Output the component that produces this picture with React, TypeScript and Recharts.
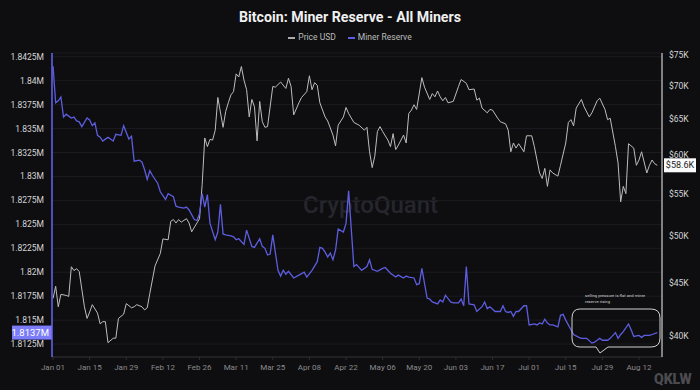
import React from 'react';
import { LineChart, Line, XAxis, YAxis, CartesianGrid, ReferenceLine } from 'recharts';

// days since 2024-01-01
const tickDays = [0, 14, 28, 42, 56, 70, 84, 98, 112, 126, 140, 154, 168, 182, 196, 210, 224];
const tickLabels = ['Jan 01', 'Jan 15', 'Jan 29', 'Feb 12', 'Feb 26', 'Mar 11', 'Mar 25', 'Apr 08', 'Apr 22', 'May 06', 'May 20', 'Jun 03', 'Jun 17', 'Jul 01', 'Jul 15', 'Jul 29', 'Aug 12'];

const reserveTicks = [1.8125, 1.815, 1.8175, 1.82, 1.8225, 1.825, 1.8275, 1.83, 1.8325, 1.835, 1.8375, 1.84, 1.8425];
const priceTicks = [40000, 45000, 50000, 55000, 60000, 65000, 70000, 75000];

// [day, price in $K]
const pricePoints: [number, number][] = [
  [0, 43.5], [1, 44.7], [2, 42.7], [3, 43.9], [5, 43.8], [6, 43.7], [7, 46.7], [8, 46.3], [9, 46.5], [10, 46.2],
  [12, 42.7], [13, 41.6], [14, 42.2], [15, 42.9], [17, 42.1], [18, 41.1], [19, 41.3], [20, 41.3], [21, 39.4], [23, 39.8],
  [24, 39.8], [25, 41.6], [27, 42.0], [28, 43.0], [30, 42.6], [31, 42.7], [32, 42.9], [34, 42.7], [35, 42.4], [36, 42.6],
  [37, 44.0], [39, 46.8], [41, 48.1], [42, 49.7], [44, 49.6], [45, 51.7], [46, 51.9], [47, 51.5], [48, 51.9], [49, 51.6],
  [51, 52.0], [52, 51.5], [53, 50.5], [55, 51.5], [56, 52.0], [57, 56.1], [58, 62.3], [59, 61.1], [60, 62.1], [61, 62.0],
  [62, 63.4], [63, 68.2], [65, 63.8], [66, 66.1], [67, 67.4], [68, 68.6], [69, 69.1], [70, 71.9], [71, 71.4], [72, 73.1],
  [73, 70.9], [74, 69.4], [75, 65.3], [76, 67.9], [77, 66.8], [78, 61.9], [79, 67.6], [80, 64.6], [81, 63.8], [82, 63.9],
  [84, 69.9], [85, 69.8], [87, 70.6], [89, 69.6], [90, 71.2], [91, 69.9], [92, 65.6], [94, 67.4], [95, 68.2], [97, 69.1],
  [98, 71.6], [99, 69.4], [100, 70.5], [101, 70.1], [102, 67.4], [104, 65.3], [105, 64.7], [106, 63.7], [107, 62.7], [108, 61.2],
  [109, 64.1], [111, 65.3], [112, 66.7], [113, 65.8], [115, 64.5], [117, 64.1], [119, 63.4], [120, 63.8], [121, 60.4], [122, 58.3],
  [123, 59.8], [124, 63.2], [125, 63.9], [126, 63.2], [128, 62.0], [129, 61.1], [130, 62.9], [131, 60.7], [132, 61.3], [134, 62.7],
  [135, 61.6], [136, 65.8], [137, 66.3], [138, 67.1], [139, 66.4], [141, 71.3], [142, 69.8], [144, 67.9], [145, 68.8], [146, 68.3],
  [147, 69.2], [148, 68.3], [149, 67.7], [150, 68.2], [151, 67.4], [153, 67.6], [155, 69.9], [156, 71.0], [158, 70.4], [159, 69.4],
  [161, 69.5], [162, 67.8], [163, 68.1], [164, 66.6], [166, 65.9], [167, 66.4], [168, 66.3], [170, 65.1], [171, 64.6], [173, 64.3],
  [174, 63.4], [175, 60.4], [176, 61.6], [177, 60.9], [178, 61.5], [180, 60.4], [181, 62.6], [183, 62.6], [184, 61.1], [186, 57.6],
  [187, 56.9], [188, 58.2], [189, 55.9], [190, 58.0], [191, 57.6], [193, 57.2], [194, 58.6], [196, 61.6], [197, 64.5], [198, 64.9],
  [199, 64.0], [200, 66.6], [202, 67.9], [203, 66.8], [205, 65.3], [206, 65.9], [208, 67.7], [209, 68.1], [211, 66.4], [212, 64.9],
  [213, 65.1], [215, 61.1], [216, 58.9], [217, 54.0], [218, 55.9], [219, 55.0], [220, 61.5], [222, 60.9], [223, 58.6], [224, 59.3],
  [225, 60.4], [227, 57.6], [228, 58.6], [229, 59.3], [230, 58.8], [231, 58.6],
];

// [day, miner reserve in M BTC]
const reservePoints: [number, number][] = [
  [0, 1.8415], [1, 1.8377], [2, 1.8379], [3, 1.8383], [4, 1.8362], [5, 1.8365], [6, 1.8363], [7, 1.8361], [8, 1.8362], [9, 1.8358],
  [10, 1.8357], [11, 1.8352], [13, 1.8361], [14, 1.8359], [15, 1.8353], [16, 1.8356], [17, 1.8343], [18, 1.8341], [19, 1.8337], [20, 1.8339],
  [21, 1.8341], [23, 1.8337], [24, 1.8344], [26, 1.8343], [27, 1.8353], [28, 1.8346], [29, 1.8339], [30, 1.8342], [31, 1.8316], [33, 1.8317],
  [34, 1.8315], [35, 1.8307], [36, 1.8297], [37, 1.8306], [38, 1.8301], [40, 1.8293], [41, 1.8284], [43, 1.8276], [44, 1.8282], [46, 1.8279],
  [47, 1.8269], [48, 1.8268], [50, 1.8267], [51, 1.8268], [52, 1.8265], [54, 1.8255], [55, 1.8254], [56, 1.8261], [57, 1.8282], [58, 1.8268],
  [59, 1.8281], [60, 1.8251], [62, 1.8234], [63, 1.8242], [64, 1.8271], [65, 1.8240], [66, 1.8239], [68, 1.8238], [69, 1.8237], [70, 1.8234],
  [71, 1.8235], [73, 1.8229], [74, 1.8244], [76, 1.8227], [77, 1.8226], [79, 1.8235], [80, 1.8227], [81, 1.8225], [82, 1.8218], [83, 1.8219],
  [84, 1.8239], [86, 1.8202], [87, 1.8196], [88, 1.8202], [89, 1.8198], [90, 1.8201], [92, 1.8194], [94, 1.8197], [96, 1.8200], [97, 1.8195],
  [99, 1.8202], [101, 1.8211], [102, 1.8226], [103, 1.8225], [104, 1.8221], [105, 1.8216], [106, 1.8220], [107, 1.8213], [108, 1.8223], [109, 1.8245],
  [111, 1.8242], [112, 1.8251], [113, 1.8285], [115, 1.8206], [116, 1.8208], [118, 1.8202], [120, 1.8206], [121, 1.8213], [122, 1.8203], [124, 1.8201],
  [126, 1.8204], [127, 1.8205], [129, 1.8199], [131, 1.8195], [132, 1.8197], [134, 1.8194], [135, 1.8196], [136, 1.8195], [138, 1.8194], [139, 1.8187],
  [140, 1.8188], [141, 1.8204], [143, 1.8173], [144, 1.8172], [145, 1.8169], [147, 1.8167], [148, 1.8171], [149, 1.8169], [150, 1.8176], [152, 1.8169],
  [153, 1.8168], [155, 1.8168], [156, 1.8172], [157, 1.8165], [158, 1.8206], [159, 1.8167], [161, 1.8166], [162, 1.8159], [164, 1.8164], [165, 1.8169],
  [166, 1.8162], [167, 1.8164], [169, 1.8159], [171, 1.8159], [172, 1.8165], [173, 1.8159], [174, 1.8158], [175, 1.8159], [176, 1.8154], [177, 1.8159],
  [178, 1.8159], [180, 1.8165], [181, 1.8165], [182, 1.8145], [184, 1.8146], [185, 1.8145], [186, 1.8147], [187, 1.8146], [188, 1.8151], [189, 1.8147],
  [190, 1.8145], [191, 1.8145], [193, 1.8143], [194, 1.8155], [195, 1.8156], [196, 1.8150], [198, 1.8140], [199, 1.8135], [201, 1.8132], [202, 1.8131],
  [204, 1.8131], [206, 1.8126], [207, 1.8127], [209, 1.8131], [210, 1.8129], [212, 1.8129], [213, 1.8131], [215, 1.8137], [216, 1.8131], [217, 1.8135],
  [218, 1.8138], [220, 1.8146], [221, 1.8140], [222, 1.8133], [224, 1.8134], [225, 1.8132], [226, 1.8134], [228, 1.8134], [229, 1.8135], [231, 1.8137],
];

const W = 700;
const H = 390;
const BG = '#0e0e11';
const FONT = 'Roboto, "Noto Sans", sans-serif';
const BLUE = '#5d5de0';
const GRAY = '#bdbdbd';

const priceData = pricePoints.map(([day, k]) => ({ day, price: k * 1000 }));
const reserveData = reservePoints.map(([day, m]) => ({ day, reserve: m }));

const lastReserve = reservePoints[reservePoints.length - 1][1];
const lastPrice = pricePoints[pricePoints.length - 1][1] * 1000;

const fmtReserve = (v: number) => `${+v.toFixed(4)}M`;
const fmtPrice = (v: number) => `$${+(v / 1000).toFixed(1)}K`;

const LeftTag = (props: any) => {
  const { viewBox } = props;
  const y = viewBox.y;
  const x = viewBox.x;
  return (
    <g>
      <rect x={x - 40} y={y - 7} width={40} height={14} fill="#7c7cf8" />
      <text x={x - 3} y={y} dy="0.35em" textAnchor="end" fill="#fff" fontSize={9.5} fontFamily={FONT}>
        {fmtReserve(lastReserve)}
      </text>
    </g>
  );
};

const RightTag = (props: any) => {
  const { viewBox } = props;
  const y = viewBox.y;
  const x = viewBox.x + viewBox.width;
  return (
    <g>
      <rect x={x + 2} y={y - 7} width={32} height={14} fill="#fafafa" />
      <text x={x + 18} y={y} dy="0.35em" textAnchor="middle" fill="#222" fontSize={9} fontFamily={FONT}>
        {fmtPrice(lastPrice)}
      </text>
    </g>
  );
};

export default function App() {
  return (
    <div style={{ position: 'absolute', left: 0, top: 0, width: W, height: H, background: BG, fontFamily: FONT, overflow: 'hidden' }}>
      <div style={{ position: 'absolute', top: 9, left: 0, width: W, textAlign: 'center', color: '#f0f0f0', fontWeight: 700, fontSize: 14.2 }}>
        Bitcoin: Miner Reserve - All Miners
      </div>
      <div style={{ position: 'absolute', top: 32, left: 0, width: W, textAlign: 'center', color: '#bbb', fontSize: 8.5 }}>
        <span style={{ display: 'inline-block', width: 7, height: 1.5, background: '#aaa', verticalAlign: 'middle', marginRight: 3 }} />
        Price USD
        <span style={{ display: 'inline-block', width: 7, height: 1.5, background: BLUE, verticalAlign: 'middle', marginLeft: 12, marginRight: 3 }} />
        Miner Reserve
      </div>
      <div style={{ position: 'absolute', left: 303, top: 191, color: '#26262c', fontSize: 24, fontWeight: 500 }}>CryptoQuant</div>
      <div style={{ position: 'absolute', left: 0, top: 0 }}>
        <LineChart width={W} height={H} margin={{ top: 53, right: 0, bottom: 0, left: 0 }}>
          <CartesianGrid yAxisId="left" vertical={false} stroke="#1b1b20" />
          <XAxis
            dataKey="day"
            type="number"
            domain={[-0.4, 232.8]}
            allowDataOverflow
            ticks={tickDays}
            tickFormatter={(d: number) => tickLabels[tickDays.indexOf(d)]}
            height={33}
            stroke="#2c2c32"
            tickSize={3}
            tickMargin={4}
            tick={{ fill: '#8a8a8a', fontSize: 8 }}
          />
          <YAxis
            yAxisId="left"
            type="number"
            domain={[1.81115, 1.84289]}
            allowDataOverflow
            ticks={reserveTicks}
            tickFormatter={fmtReserve}
            width={52}
            axisLine={{ stroke: '#6666f2', strokeWidth: 1.5 }}
            tickLine={false}
            tickSize={0}
            tickMargin={8}
            tick={{ fill: '#d4d4d4', fontSize: 8.5 }}
          />
          <YAxis
            yAxisId="right"
            orientation="right"
            type="number"
            scale="log"
            domain={[38160, 75340]}
            allowDataOverflow
            ticks={priceTicks}
            tickFormatter={(v: number) => `$${v / 1000}K`}
            width={38}
            axisLine={{ stroke: '#a8a8a8', strokeWidth: 1.5 }}
            tickLine={false}
            tickSize={0}
            tickMargin={7}
            tick={{ fill: '#d4d4d4', fontSize: 8.5 }}
          />
          <Line
            data={priceData}
            yAxisId="right"
            dataKey="price"
            type="linear"
            stroke={GRAY}
            strokeWidth={1}
            dot={false}
            isAnimationActive={false}
          />
          <Line
            data={reserveData}
            yAxisId="left"
            dataKey="reserve"
            type="linear"
            stroke={BLUE}
            strokeWidth={1.3}
            dot={false}
            isAnimationActive={false}
          />
          <ReferenceLine yAxisId="left" y={lastReserve} stroke="none" label={<LeftTag />} />
          <ReferenceLine yAxisId="right" y={lastPrice} stroke="none" label={<RightTag />} />
        </LineChart>
      </div>
      <svg width={W} height={H} style={{ position: 'absolute', left: 0, top: 0, pointerEvents: 'none' }}>
        <text x={585} y={297} fill="#cfcfcf" fontSize={4.2} fontFamily={FONT}>selling pressure is flat and miner</text>
        <text x={585} y={303} fill="#cfcfcf" fontSize={4.2} fontFamily={FONT}>reserve rising</text>
        <path
          d="M 580 309 L 651 309 Q 660 309 660 318 L 660 338 Q 660 347 651 347 L 608 347 L 600 353 L 596 347 L 580 347 Q 572 347 572 338 L 572 318 Q 572 309 580 309 Z"
          fill="none"
          stroke="#d0d0d0"
          strokeWidth={1}
        />
        <text x={654} y={384} fill="#9a9aa0" fillOpacity={0.45} fontSize={14} fontWeight={900} fontFamily={FONT}>QKLW</text>
      </svg>
    </div>
  );
}
